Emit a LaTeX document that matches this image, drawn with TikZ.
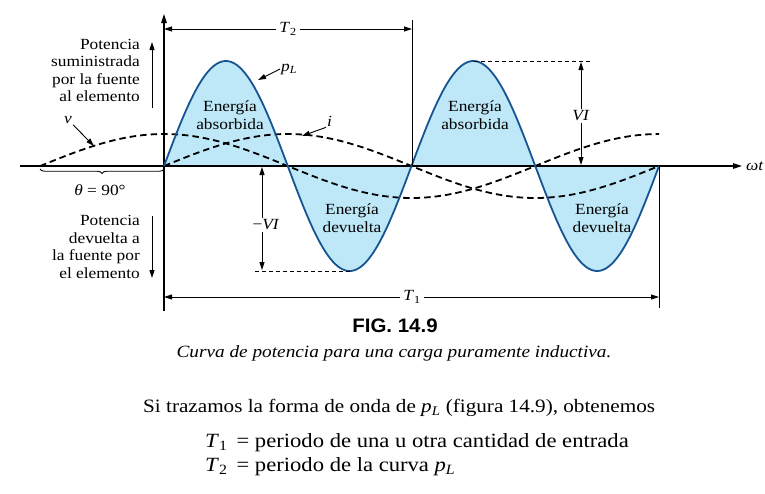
\documentclass[tikz,border=0pt]{standalone}
\usepackage{fontspec}
\setmainfont{Liberation Serif}[FakeStretch=1.12]
\newfontfamily\figsans{Liberation Sans}[FakeStretch=1.05]
\usetikzlibrary{arrows.meta,decorations.pathreplacing}
\definecolor{fillblue}{RGB}{190,232,248}
\definecolor{lineblue}{RGB}{22,84,146}
\begin{document}
\begin{tikzpicture}[x=1pt,y=-1pt,
  txt/.style={font=\fontsize{15.5}{17.5}\selectfont, inner sep=1pt},
  tip/.style={-{Triangle[length=8pt,width=5pt]}, line width=0.9pt},
  thinline/.style={line width=0.9pt},
  wave/.style={line width=1.8pt, dash pattern=on 6.5pt off 4pt},
  guide/.style={line width=0.9pt, dash pattern=on 4pt off 3pt},
  axisline/.style={line width=1.2pt}]
\useasboundingbox (0,0) rectangle (765,493);

% power curve fill
\fill[fillblue] plot[domain=164:659, samples=240] (\x,{166-105*sin((\x-164)*1.454545)}) -- cycle;

% axes
\coordinate (xa0) at (20,166);
\coordinate (xa1) at (742,166);
\coordinate (ya0) at (164,311);
\coordinate (ya1) at (164,14);
\draw[axisline,-{Triangle[length=9pt,width=5.5pt]}] (xa0) -- (xa1);
\draw[axisline,-{Triangle[length=9pt,width=5.5pt]}] (ya0) -- (ya1);
\node[txt, anchor=west] (wt) at (745,166) {\textit{ω}\textit{t}};

% v and i
\draw[wave] plot[domain=40:659, samples=200] (\x,{166-32*cos((\x-164)*0.727273)});
\draw[wave] plot[domain=164:659, samples=200] (\x,{166-32*sin((\x-164)*0.727273)});

% pL stroke
\draw[lineblue, line width=1.8pt] plot[domain=164:659, samples=240] (\x,{166-105*sin((\x-164)*1.454545)});

% period marks
\coordinate (t2top) at (412,20);
\coordinate (t2bot) at (412,166);
\draw[thinline] (t2top) -- (t2bot);
\coordinate (t1top) at (659,166);
\coordinate (t1bot) at (659,308);
\draw[thinline] (t1top) -- (t1bot);

\node[txt, fill=white, inner sep=3pt] (T2) at (288,29) {\textit{T}\textsubscript{2}};
\coordinate (t2l) at (164,29);
\coordinate (t2r) at (412,29);
\draw[tip] (T2) -- (t2l);
\draw[tip] (T2) -- (t2r);

\node[txt, fill=white, inner sep=3pt] (T1) at (412,297) {\textit{T}\textsubscript{1}};
\coordinate (t1l) at (164,297);
\coordinate (t1r) at (659,297);
\draw[tip] (T1) -- (t1l);
\draw[tip] (T1) -- (t1r);

% VI
\coordinate (pk) at (474,61);
\coordinate (pkend) at (590,61);
\draw[guide] (pk) -- (pkend);
\node[txt, fill=white, inner sep=2pt] (VI) at (581,116) {\textit{VI}};
\coordinate (vitop) at (581,62);
\coordinate (vibot) at (581,165);
\draw[tip] (VI) -- (vitop);
\draw[tip] (VI) -- (vibot);

% -VI
\coordinate (mn) at (350,271);
\coordinate (mnend) at (254,271);
\draw[guide] (mn) -- (mnend);
\node[txt, fill=white, inner sep=2pt] (mVI) at (266,225) {−\textit{VI}};
\coordinate (mvitop) at (262,167);
\coordinate (mvibot) at (262,270);
\draw[tip] (mVI.north -| mvitop) -- (mvitop);
\draw[tip] (mVI.south -| mvibot) -- (mvibot);

% region labels
\node[txt, align=center] (ea1) at (230,115) {Energía\\absorbida};
\node[txt, align=center] (ea2) at (475,115) {Energía\\absorbida};
\node[txt, align=center] (ed1) at (352,218) {Energía\\devuelta};
\node[txt, align=center] (ed2) at (602,218) {Energía\\devuelta};

% curve labels
\node[txt, anchor=west] (pL) at (280,69) {\textit{p}\textsubscript{\textit{L}}};
\coordinate (pLtip) at (258,80);
\draw[tip] (pL.west) -- (pLtip);
\node[txt, anchor=west] (il) at (326,121) {\textit{i}};
\coordinate (itip) at (302,136);
\draw[tip] (il.south west) -- (itip);
\node[txt] (vl) at (68,120) {\textit{v}};
\coordinate (vtip) at (94,146);
\draw[tip] (vl.south east) -- (vtip);

% theta brace
\coordinate (br0) at (40,169);
\coordinate (br1) at (164,169);
\draw[thinline, decorate, decoration={brace, amplitude=4.5pt, mirror}] (br0) -- (br1);
\node[txt] (theta) at (100,190) {\textit{θ} = 90°};

% side labels
\node[txt, align=right, anchor=east] (sup) at (141,70.5) {Potencia\\suministrada\\por la fuente\\al elemento};
\coordinate (upa) at (152,108);
\coordinate (upb) at (152,42);
\draw[tip] (upa) -- (upb);
\node[txt, align=right, anchor=east] (ret) at (141,247) {Potencia\\devuelta a\\la fuente por\\el elemento};
\coordinate (dna) at (152,216);
\coordinate (dnb) at (152,278);
\draw[tip] (dna) -- (dnb);

% caption and text
\node[font=\figsans\bfseries\fontsize{19.5}{22}\selectfont, inner sep=0] (fig) at (395,326) {FIG. 14.9};
\node[font=\itshape\fontsize{17.2}{20}\selectfont, inner sep=0] (cap) at (394,353) {Curva de potencia para una carga puramente inductiva.};
\node[font=\fontsize{18.9}{22}\selectfont, inner sep=0, anchor=west] (si) at (143,408) {Si trazamos la forma de onda de \textit{p}\textsubscript{\textit{L}} (figura 14.9), obtenemos};
\node[font=\fontsize{20.2}{23}\selectfont, inner sep=0, anchor=west] (eq1) at (205,443) {\textit{T}\textsubscript{1}\, = periodo de una u otra cantidad de entrada};
\node[font=\fontsize{20.2}{23}\selectfont, inner sep=0, anchor=west] (eq2) at (205,467) {\textit{T}\textsubscript{2}\, = periodo de la curva \textit{p}\textsubscript{\textit{L}}};
\end{tikzpicture}
\end{document}
